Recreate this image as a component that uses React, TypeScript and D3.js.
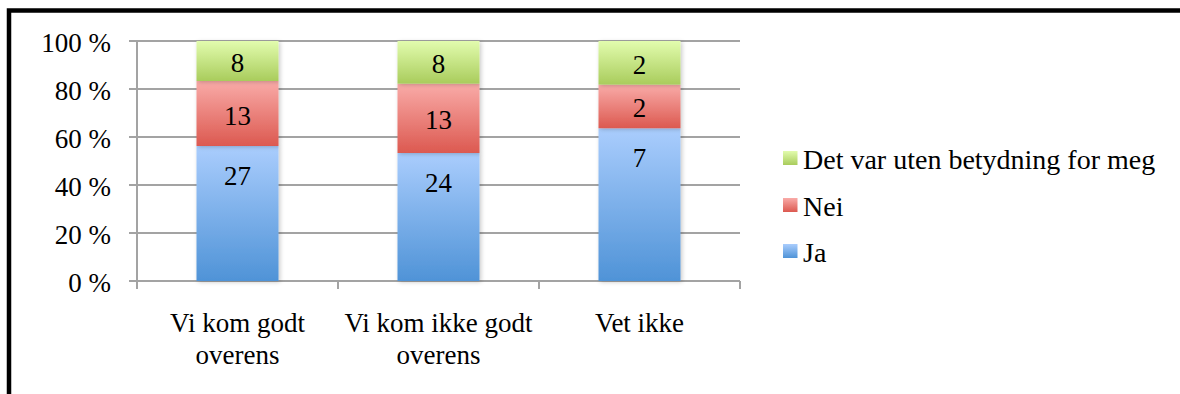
import React from "react";
import * as d3 from "d3";

const categories: string[][] = [
  ["Vi kom godt", "overens"],
  ["Vi kom ikke godt", "overens"],
  ["Vet ikke"],
];
const seriesNames = ["Ja", "Nei", "Det var uten betydning for meg"];
const ja = [27, 24, 7];
const nei = [13, 13, 2];
const uten = [8, 8, 2];
const yTicks = [0, 20, 40, 60, 80, 100];

const gradients = [
  { id: "gJa", top: "#aacdfd", bottom: "#4f93d7" },
  { id: "gNei", top: "#f9aba8", bottom: "#dc5950" },
  { id: "gUten", top: "#e2fcae", bottom: "#a9cc5c" },
];

const FONT = "Liberation Serif, Times New Roman, serif";

export default function App() {
  const W = 1180;
  const H = 394;
  const x0 = 137;
  const x1 = 740;
  const yTop = 41;
  const yBot = 281;

  const x = d3
    .scaleBand<number>()
    .domain(categories.map((_, i) => i))
    .range([x0, x1])
    .padding(0);
  const y = d3.scaleLinear().domain([0, 100]).range([yBot, yTop]);

  const values = [ja, nei, uten];
  const rows = categories.map((_, i) => ({
    i,
    Ja: ja[i],
    Nei: nei[i],
    Uten: uten[i],
  }));
  const stack = d3
    .stack<any>()
    .keys(["Ja", "Nei", "Uten"])
    .offset(d3.stackOffsetExpand);
  const stacked = stack(rows);

  const bw = x.bandwidth();
  const barW = bw * 0.408;

  const legendItems = [2, 1, 0];
  const legendBaselines = [169, 216, 262];

  return (
    <svg
      width={W}
      height={H}
      style={{ position: "absolute", left: 0, top: 0, background: "#fff" }}
    >
      <defs>
        {gradients.map((g) => (
          <linearGradient key={g.id} id={g.id} x1="0" y1="0" x2="0" y2="1">
            <stop offset="0%" stopColor={g.top} />
            <stop offset="100%" stopColor={g.bottom} />
          </linearGradient>
        ))}
        <filter id="shadow" x="-20%" y="-20%" width="140%" height="140%">
          <feDropShadow dx="1.5" dy="1" stdDeviation="2" floodColor="#000" floodOpacity="0.22" />
        </filter>
      </defs>
      <rect x={9} y={10.5} width={1300} height={500} fill="none" stroke="#000" strokeWidth={4.5} />

      {/* gridlines */}
      {yTicks.map((t) => (
        <line
          key={t}
          x1={x0 - 8}
          x2={x1}
          y1={y(t)}
          y2={y(t)}
          stroke="#a3a3a3"
          strokeWidth={2}
        />
      ))}
      {/* y axis */}
      <line x1={x0} x2={x0} y1={yTop} y2={yBot + 1} stroke="#a3a3a3" strokeWidth={2} />
      {/* x ticks */}
      {[0, 1, 2, 3].map((k) => {
        const xx = k < 3 ? (x(k) as number) : x1;
        return (
          <line
            key={k}
            x1={xx}
            x2={xx}
            y1={yBot}
            y2={yBot + 8}
            stroke="#a3a3a3"
            strokeWidth={2}
          />
        );
      })}

      {/* y tick labels */}
      {yTicks.map((t) => (
        <text
          key={t}
          x={111}
          y={y(t) + 11}
          textAnchor="end"
          fontFamily={FONT}
          fontSize={27}
          fill="#000"
        >
          {t} %
        </text>
      ))}

      {/* bars */}
      {stacked.map((s, si) => (
        <g key={si} filter="url(#shadow)">
          {s.map((d, ci) => (
            <rect
              key={ci}
              x={(x(ci) as number) + (bw - barW) / 2}
              y={y(d[1] * 100)}
              width={barW}
              height={y(d[0] * 100) - y(d[1] * 100)}
              fill={`url(#${gradients[si].id})`}
            />
          ))}
        </g>
      ))}

      {/* data labels */}
      {stacked.map((s, si) =>
        s.map((d, ci) => {
          const top = y(d[1] * 100);
          const bot = y(d[0] * 100);
          const ly = si === 0 ? top + 39 : (top + bot) / 2 + 11;
          return (
            <text
              key={`${si}-${ci}`}
              x={(x(ci) as number) + bw / 2}
              y={ly}
              textAnchor="middle"
              fontFamily={FONT}
              fontSize={27}
              fill="#000"
            >
              {values[si][ci]}
            </text>
          );
        })
      )}

      {/* category labels */}
      {categories.map((lines, ci) => (
        <text
          key={ci}
          x={(x(ci) as number) + bw / 2}
          y={332}
          textAnchor="middle"
          fontFamily={FONT}
          fontSize={27}
          fill="#000"
        >
          {lines.map((l, li) => (
            <tspan key={li} x={(x(ci) as number) + bw / 2} dy={li === 0 ? 0 : 32}>
              {l}
            </tspan>
          ))}
        </text>
      ))}

      {/* legend */}
      {legendItems.map((si, k) => (
        <g key={si}>
          <rect
            x={783}
            y={legendBaselines[k] - 18}
            width={14.5}
            height={14}
            fill={`url(#${gradients[si].id})`}
          />
          <text
            x={803}
            y={legendBaselines[k]}
            fontFamily={FONT}
            fontSize={28}
            fill="#000"
          >
            {seriesNames[si]}
          </text>
        </g>
      ))}
    </svg>
  );
}
